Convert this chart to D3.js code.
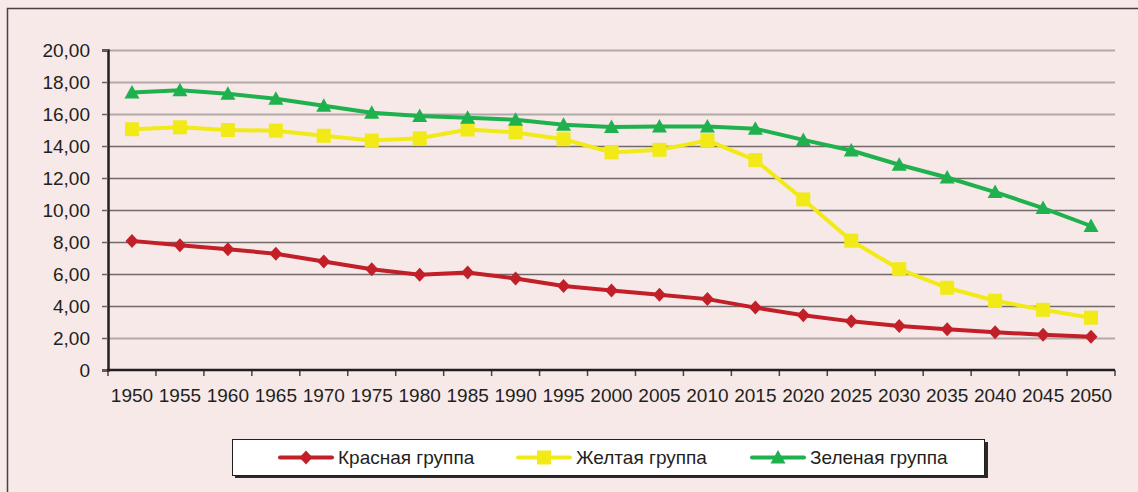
<!DOCTYPE html>
<html><head><meta charset="utf-8">
<script src="https://cdn.jsdelivr.net/npm/d3@7"></script>
<style>
html,body{margin:0;padding:0;background:#f6e9e8;}
svg{display:block;}
</style></head>
<body>
<svg id="c" width="1138" height="492"></svg>
<script>
const years = ["1950","1955","1960","1965","1970","1975","1980","1985","1990","1995","2000","2005","2010","2015","2020","2025","2030","2035","2040","2045","2050"];
const redValues = [8.07,7.8,7.55,7.27,6.78,6.3,5.95,6.1,5.72,5.25,4.97,4.7,4.43,3.9,3.42,3.04,2.75,2.54,2.36,2.2,2.08];
const yellowValues = [15.05,15.17,15.0,14.96,14.64,14.34,14.48,15.03,14.85,14.42,13.6,13.76,14.35,13.12,10.66,8.08,6.3,5.14,4.33,3.76,3.27];
const greenValues = [17.35,17.48,17.27,16.95,16.52,16.08,15.88,15.77,15.64,15.33,15.18,15.22,15.22,15.08,14.38,13.72,12.83,12.03,11.12,10.12,9.0];
const yTicks = [0,2,4,6,8,10,12,14,16,18,20];
const seriesNames = ["Красная группа","Желтая группа","Зеленая группа"];

const series = [
  {name: seriesNames[0], values: redValues, color: "#c21f29", marker: "diamond"},
  {name: seriesNames[1], values: yellowValues, color: "#f1ea17", marker: "square"},
  {name: seriesNames[2], values: greenValues, color: "#1fb14d", marker: "triangle"}
];

const svg = d3.select("#c");
const W = 1138, H = 492;
const plot = {left: 108, right: 1115, top: 50, bottom: 370};

svg.append("rect").attr("x",0).attr("y",0).attr("width",W).attr("height",H).attr("fill","#f6e9e8");
// outer frame
svg.append("rect").attr("x",7.5).attr("y",8.5).attr("width",1140).attr("height",500)
  .attr("fill","none").attr("stroke","#4a4242").attr("stroke-width",1.5);

const x = d3.scaleBand().domain(years).range([plot.left, plot.right]).padding(0);
const y = d3.scaleLinear().domain([0,20]).range([plot.bottom, plot.top]);
const cx = d => x(d) + x.bandwidth()/2;

const fmt = v => v === 0 ? "0" : v.toFixed(2).replace(".", ",");
const lightGrid = new Set([20,18,16,2]);

// gridlines
svg.append("g").selectAll("line").data(yTicks.filter(t => t > 0)).join("line")
  .attr("x1", plot.left).attr("x2", plot.right)
  .attr("y1", d => Math.round(y(d)) + 0.5).attr("y2", d => Math.round(y(d)) + 0.5)
  .attr("stroke", d => lightGrid.has(d) ? "#b3a8a8" : "#716969")
  .attr("stroke-width", d => lightGrid.has(d) ? 2 : 1.5);

// y axis
const yAxis = d3.axisLeft(y).tickValues(yTicks).tickFormat(fmt).tickSize(6).tickPadding(12);
const gy = svg.append("g").attr("transform", `translate(${plot.left},0)`).call(yAxis);
gy.select(".domain").attr("stroke","#231f20").attr("stroke-width",2.5);
gy.selectAll(".tick line").attr("stroke","#6b6363").attr("stroke-width",1.5);
gy.selectAll(".tick text").attr("font-family","'Liberation Sans', Arial, sans-serif")
  .attr("font-size",19).attr("fill","#231f20");

// x axis
const xAxis = d3.axisBottom(x).tickSize(0).tickPadding(19);
const gx = svg.append("g").attr("transform", `translate(0,${plot.bottom})`).call(xAxis);
gx.select(".domain").remove();
gx.selectAll(".tick text").attr("font-family","'Liberation Sans', Arial, sans-serif")
  .attr("font-size",19).attr("fill","#231f20");
// category boundary ticks
const bounds = years.map(d => x(d)).concat([plot.right]);
svg.append("g").selectAll("line").data(bounds).join("line")
  .attr("x1", d => d).attr("x2", d => d).attr("y1", plot.bottom).attr("y2", plot.bottom + 6)
  .attr("stroke","#4a4242").attr("stroke-width",1.5);
svg.append("line").attr("x1", plot.left - 1).attr("x2", plot.right)
  .attr("y1", plot.bottom).attr("y2", plot.bottom)
  .attr("stroke","#231f20").attr("stroke-width",2.5);

// markers
function drawMarker(g, type, px, py, color) {
  if (type === "diamond") {
    g.append("path").attr("d", `M${px},${py-7}L${px+6.5},${py}L${px},${py+7}L${px-6.5},${py}Z`).attr("fill", color);
  } else if (type === "square") {
    g.append("rect").attr("x", px-7).attr("y", py-7).attr("width",14).attr("height",14).attr("fill", color);
  } else {
    g.append("path").attr("d", `M${px},${py-7.5}L${px+7.5},${py+6}L${px-7.5},${py+6}Z`).attr("fill", color);
  }
}

const line = d3.line().x((d,i) => cx(years[i])).y(d => y(d));
series.forEach(s => {
  const g = svg.append("g");
  g.append("path").datum(s.values).attr("d", line).attr("fill","none")
    .attr("stroke", s.color).attr("stroke-width", 4).attr("stroke-linejoin","round");
  s.values.forEach((v,i) => drawMarker(g, s.marker, cx(years[i]), y(v), s.color));
});

// legend
const lg = svg.append("g");
lg.append("rect").attr("x",235).attr("y",442).attr("width",753).attr("height",36).attr("fill","#2a2a2a");
lg.append("rect").attr("x",232.5).attr("y",439.5).attr("width",752).attr("height",36)
  .attr("fill","#ffffff").attr("stroke","#231f20").attr("stroke-width",1);
const legendX = [280, 518, 752];
series.forEach((s,i) => {
  const lx = legendX[i], ly = 457.5;
  lg.append("line").attr("x1", lx).attr("x2", lx + 52).attr("y1", ly).attr("y2", ly)
    .attr("stroke", s.color).attr("stroke-width", 4).attr("stroke-linecap","round");
  drawMarker(lg, s.marker, lx + 26, ly, s.color);
  lg.append("text").attr("x", lx + 58).attr("y", ly).attr("dy","0.36em")
    .attr("font-family","'Liberation Sans Narrow', 'Liberation Sans', Arial, sans-serif")
    .attr("font-size",19).attr("fill","#231f20").text(s.name);
});
</script>
</body></html>
